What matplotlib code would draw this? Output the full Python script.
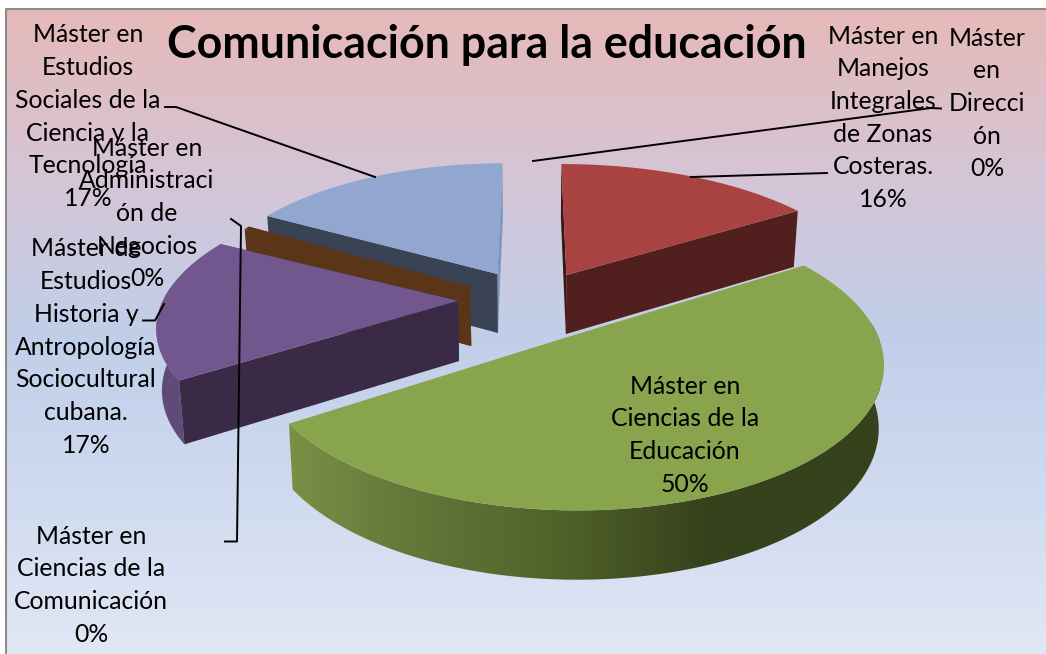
import numpy as np
import matplotlib
matplotlib.use("Agg")
import matplotlib.pyplot as plt
from matplotlib.colors import LinearSegmentedColormap
from matplotlib.patches import Polygon

title = "Comunicación para la educación"

# order is clockwise from the top of the pie
categories = ["Dirección", "Manejos Integrales de Zonas Costeras",
              "Ciencias de la Educación", "Estudios Historia y Antropología",
              "Ciencias de la Comunicación", "Administración de Negocios",
              "Estudios Sociales de la Ciencia y la Tecnología"]
values = [0, 16, 50, 17, 0.4, 0, 17]
labels = [["Máster", "en", "Direcci", "ón", "0%"],
          ["Máster en", "Manejos", "Integrales", "de Zonas", "Costeras.", "16%"],
          ["Máster en", "Ciencias de la", "Educación", "50%"],
          ["Máster de", "Estudios", "Historia y", "Antropología", "Sociocultural", "cubana.", "17%"],
          ["Máster en", "Ciencias de la", "Comunicación", "0%"],
          ["Máster en", "Administraci", "ón de", "Negocios", "0%"],
          ["Máster en", "Estudios", "Sociales de la", "Ciencia y la", "Tecnología", "17%"]]

# look of each slice, same order as values
top_colors = ["#4F81BD", "#A84341", "#88A44D", "#71578E", "#5A3518", "#4BACC6", "#92A7CF"]
face_colors = ["#2A4466", "#3A1616", None, "#3A2A46", "#5A3518", "#28606E", "#3A4355"]
far_face_colors = ["#2A4466", "#521F1F", None, "#3A2A46", "#5A3518", "#28606E", "#7F97BD"]
rim_colors = ["#2A4466", "#521F1F", None, "#5F4A7A", "#5A3518", "#28606E", "#3A4355"]
offsets = [(0, 0.2), (0.113, 0.157), (0.115, -0.28), (-0.236, -0.035),
           (-0.2, 0.07), (-0.2, 0.1), (-0.114, 0.165)]
radii = [(1, 1), (1, 1), (0.94, 0.95), (0.94, 0.95), (0.91, 1), (1, 1), (0.95, 1)]
label_x = [987, 883, 685, 86, 91, 147, 88]
label_y = [38, 36, 386, 249, 536, 148, 35]

# projection of the pie plane to pixels
cx, cy, A, B, h, depth = 532, 296, 312, 137, 0.174, 60
line_step = 32.7
green_rim_x = [288, 400, 570, 700, 880]
green_rim_c = ["#7A9045", "#65793A", "#4F6029", "#37431D", "#36421C"]


def project(X, Y, low=False):
    X = np.asarray(X, dtype=float)
    Y = np.asarray(Y, dtype=float)
    w = 1 + h * Y
    px = A * X / w
    py = -B * Y / w
    if low:
        px = px * 0.985
        py = py + depth / w ** 0.6
    return cx + px, cy + py


fig = plt.figure(figsize=(10.46, 6.54), dpi=100, facecolor="white")
ax = fig.add_axes([0, 0, 1, 1])

bg = LinearSegmentedColormap.from_list("bg", [(0, "#E6B9B8"), (0.26, "#D5C5D6"), (0.52, "#C1CFEA"), (1, "#E0E7F5")])
ax.imshow(np.linspace(0, 1, 256).reshape(-1, 1), cmap=bg, extent=(6, 1046, 654, 9), aspect="auto", zorder=0)
rim_cmap = LinearSegmentedColormap.from_list(
    "rim", [((x - green_rim_x[0]) / (green_rim_x[-1] - green_rim_x[0]), c) for x, c in zip(green_rim_x, green_rim_c)])
ax.plot([5.5, 5.5, 1046], [654, 8.5, 8.5], color="#8C8C8C", lw=1.5, zorder=1)

total = sum(values)
edges = np.cumsum([0] + values) / total * 360
for i in [6, 1, 5, 0, 4, 3, 2]:
    if values[i] == 0:
        continue
    t = np.radians(np.linspace(edges[i], edges[i + 1], 200))
    ox, oy = offsets[i]
    rx, ry = radii[i]
    X = ox + rx * np.sin(t)
    Y = oy + ry * np.cos(t)
    xt, yt = project(X, Y)
    xb, yb = project(X, Y, low=True)
    ax0, ay0 = project(ox, oy)
    bx0, by0 = project(ox, oy, low=True)

    # outer wall, only the part that faces the viewer
    front = np.cos(t) < 0.1
    if front.any():
        rim = np.vstack([np.column_stack([xt[front], yt[front]]),
                         np.column_stack([xb[front], yb[front]])[::-1]])
        if rim_colors[i]:
            ax.add_patch(Polygon(rim, facecolor=rim_colors[i], edgecolor="none", zorder=2))
        else:
            patch = Polygon(rim, facecolor="none", edgecolor="none", zorder=2)
            ax.add_patch(patch)
            im = ax.imshow(np.linspace(0, 1, 256).reshape(1, -1), cmap=rim_cmap, aspect="auto", zorder=2,
                           extent=(green_rim_x[0], green_rim_x[-1], 654, 0))
            im.set_clip_path(patch)

    if face_colors[i]:
        ax.add_patch(Polygon([(ax0, ay0), (xt[-1], yt[-1]), (xb[-1], yb[-1]), (bx0, by0)],
                             facecolor=far_face_colors[i], edgecolor="none", zorder=2))
        ax.add_patch(Polygon([(ax0, ay0), (xt[0], yt[0]), (xb[0], yb[0]), (bx0, by0)],
                             facecolor=face_colors[i], edgecolor="none", zorder=2))
    ax.add_patch(Polygon(np.vstack([[ax0, ay0], np.column_stack([xt, yt])]),
                         facecolor=top_colors[i], edgecolor="none", zorder=2))

ax.set_xlim(0, 1046)
ax.set_ylim(654, 0)
ax.axis("off")

# leader lines
ax.plot([165, 176, 375], [107, 107, 177], color="black", lw=1.4, zorder=3)
ax.plot([691, 827], [177, 173], color="black", lw=1.4, zorder=3)
ax.plot([533, 931, 941], [161, 108, 108.5], color="black", lw=1.4, zorder=3)
ax.plot([143, 155, 164], [320.5, 320.5, 304], color="black", lw=1.4, zorder=3)
ax.plot([225, 237, 241, 231], [541.5, 541.5, 226, 219], color="black", lw=1.4, zorder=3)

for i, lines in enumerate(labels):
    for n, line in enumerate(lines):
        ax.text(label_x[i], label_y[i] + n * line_step, line, family="Lato", fontsize=17.8,
                ha="center", va="center", color="black", zorder=4)

ax.text(487, 45, title, family="Lato", fontsize=32.2, fontweight="bold", ha="center", va="center", color="black", zorder=4)

fig.savefig("out.png", dpi=100)
